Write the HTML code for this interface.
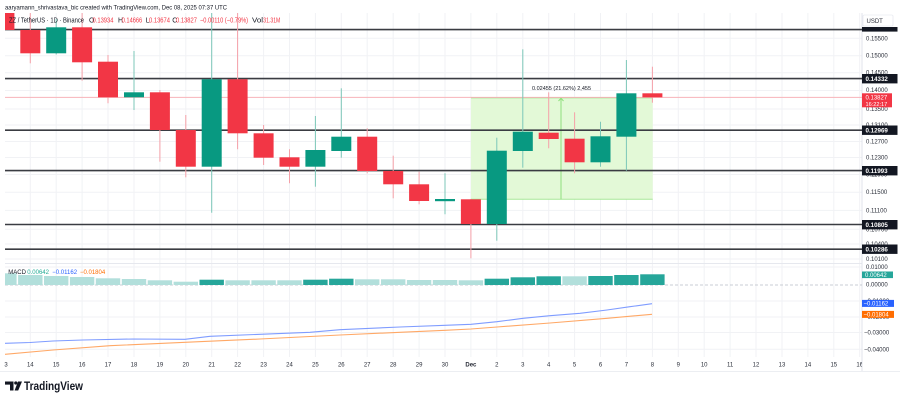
<!DOCTYPE html>
<html><head><meta charset="utf-8"><style>
html,body{margin:0;padding:0;background:#fff;}
svg{display:block;font-family:"Liberation Sans",sans-serif;}
</style></head><body>
<svg width="900" height="400" viewBox="0 0 900 400" xmlns="http://www.w3.org/2000/svg">
<defs>
<clipPath id="main"><rect x="5" y="13" width="857" height="250"/></clipPath>
<clipPath id="macd"><rect x="5" y="263" width="857" height="94"/></clipPath>
<clipPath id="xax"><rect x="4" y="357" width="858" height="14"/></clipPath>
</defs>
<rect width="900" height="400" fill="#fff"/>

<!-- grid -->
<g stroke="#f1f2f5" stroke-width="1">
<line x1="30.3" y1="13" x2="30.3" y2="357"/><line x1="56.2" y1="13" x2="56.2" y2="357"/><line x1="82.1" y1="13" x2="82.1" y2="357"/><line x1="108" y1="13" x2="108" y2="357"/><line x1="134" y1="13" x2="134" y2="357"/><line x1="159.9" y1="13" x2="159.9" y2="357"/><line x1="185.8" y1="13" x2="185.8" y2="357"/><line x1="211.7" y1="13" x2="211.7" y2="357"/><line x1="237.6" y1="13" x2="237.6" y2="357"/><line x1="263.6" y1="13" x2="263.6" y2="357"/><line x1="289.5" y1="13" x2="289.5" y2="357"/><line x1="315.4" y1="13" x2="315.4" y2="357"/><line x1="341.3" y1="13" x2="341.3" y2="357"/><line x1="367.2" y1="13" x2="367.2" y2="357"/><line x1="393.2" y1="13" x2="393.2" y2="357"/><line x1="419.1" y1="13" x2="419.1" y2="357"/><line x1="445" y1="13" x2="445" y2="357"/><line x1="470.9" y1="13" x2="470.9" y2="357"/><line x1="496.8" y1="13" x2="496.8" y2="357"/><line x1="522.8" y1="13" x2="522.8" y2="357"/><line x1="548.7" y1="13" x2="548.7" y2="357"/><line x1="574.6" y1="13" x2="574.6" y2="357"/><line x1="600.5" y1="13" x2="600.5" y2="357"/><line x1="626.4" y1="13" x2="626.4" y2="357"/><line x1="652.4" y1="13" x2="652.4" y2="357"/><line x1="678.3" y1="13" x2="678.3" y2="357"/><line x1="704.2" y1="13" x2="704.2" y2="357"/><line x1="730.1" y1="13" x2="730.1" y2="357"/><line x1="756" y1="13" x2="756" y2="357"/><line x1="782" y1="13" x2="782" y2="357"/><line x1="807.9" y1="13" x2="807.9" y2="357"/><line x1="833.8" y1="13" x2="833.8" y2="357"/><line x1="859.7" y1="13" x2="859.7" y2="357"/>
<line x1="5" y1="38.3" x2="862" y2="38.3"/><line x1="5" y1="55.7" x2="862" y2="55.7"/><line x1="5" y1="72.7" x2="862" y2="72.7"/><line x1="5" y1="90.5" x2="862" y2="90.5"/><line x1="5" y1="109" x2="862" y2="109"/><line x1="5" y1="125" x2="862" y2="125"/><line x1="5" y1="141.5" x2="862" y2="141.5"/><line x1="5" y1="157.5" x2="862" y2="157.5"/><line x1="5" y1="174.5" x2="862" y2="174.5"/><line x1="5" y1="192.2" x2="862" y2="192.2"/><line x1="5" y1="210.4" x2="862" y2="210.4"/><line x1="5" y1="229.3" x2="862" y2="229.3"/><line x1="5" y1="244" x2="862" y2="244"/><line x1="5" y1="259" x2="862" y2="259"/>
<line x1="5" y1="267" x2="862" y2="267"/><line x1="5" y1="301" x2="862" y2="301"/><line x1="5" y1="317" x2="862" y2="317"/><line x1="5" y1="332.5" x2="862" y2="332.5"/><line x1="5" y1="349.3" x2="862" y2="349.3"/>
</g>

<!-- pane borders -->
<line x1="5" y1="263.5" x2="862" y2="263.5" stroke="#e6e8ee" stroke-width="1"/>
<line x1="0" y1="371.5" x2="900" y2="371.5" stroke="#eceef2" stroke-width="1"/>
<line x1="862" y1="13" x2="862" y2="371" stroke="#e0e3eb" stroke-width="1"/>

<g clip-path="url(#main)">
<!-- measurement box -->
<rect x="471" y="97.7" width="181.7" height="101.6" fill="#e3f9d7"/>
<line x1="471" y1="97.7" x2="652.7" y2="97.7" stroke="#8fe07c" stroke-width="1"/>
<line x1="471" y1="199.3" x2="652.7" y2="199.3" stroke="#a8e898" stroke-width="1"/>
<line x1="561" y1="99" x2="561" y2="199.3" stroke="#8fe07c" stroke-width="1"/>
<polyline points="558.5,101 561,98.2 563.5,101" fill="none" stroke="#8fe07c" stroke-width="1"/>

<!-- current price line -->
<line x1="5" y1="97.4" x2="862" y2="97.4" stroke="#f7b3b9" stroke-width="1"/>

<!-- level lines -->
<g stroke="#3a3c42" stroke-width="1.6">
<line x1="0" y1="29.6" x2="862" y2="29.6"/>
<line x1="5" y1="78.6" x2="862" y2="78.6"/>
<line x1="5" y1="130.2" x2="862" y2="130.2"/>
<line x1="5" y1="170.6" x2="862" y2="170.6"/>
<line x1="5" y1="224.5" x2="862" y2="224.5"/>
<line x1="5" y1="249.2" x2="862" y2="249.2"/>
</g>

<!-- wicks -->
<g stroke-width="1">
<line x1="30.3" y1="13" x2="30.3" y2="63.3" stroke="#f5a0a8"/>
<line x1="56.2" y1="19" x2="56.2" y2="54.5" stroke="#7cc7b8"/>
<line x1="82.1" y1="13" x2="82.1" y2="80.7" stroke="#f5a0a8"/>
<line x1="108" y1="55" x2="108" y2="103.3" stroke="#f5a0a8"/>
<line x1="134" y1="51" x2="134" y2="110" stroke="#7cc7b8"/>
<line x1="159.9" y1="90" x2="159.9" y2="161.7" stroke="#f5a0a8"/>
<line x1="185.8" y1="115" x2="185.8" y2="177.3" stroke="#f5a0a8"/>
<line x1="211.7" y1="13" x2="211.7" y2="212.7" stroke="#7cc7b8"/>
<line x1="237.6" y1="13" x2="237.6" y2="149.3" stroke="#f5a0a8"/>
<line x1="263.6" y1="125" x2="263.6" y2="165" stroke="#f5a0a8"/>
<line x1="289.5" y1="149.3" x2="289.5" y2="183.3" stroke="#f5a0a8"/>
<line x1="315.4" y1="116" x2="315.4" y2="186.7" stroke="#7cc7b8"/>
<line x1="341.3" y1="88.3" x2="341.3" y2="157.7" stroke="#7cc7b8"/>
<line x1="367.2" y1="128.3" x2="367.2" y2="173.3" stroke="#f5a0a8"/>
<line x1="393.2" y1="155.7" x2="393.2" y2="198.3" stroke="#f5a0a8"/>
<line x1="419.1" y1="171.7" x2="419.1" y2="204.3" stroke="#f5a0a8"/>
<line x1="445" y1="173.3" x2="445" y2="214.3" stroke="#7cc7b8"/>
<line x1="470.9" y1="199" x2="470.9" y2="258.3" stroke="#f5a0a8"/>
<line x1="496.8" y1="137.7" x2="496.8" y2="240.7" stroke="#7cc7b8"/>
<line x1="522.8" y1="49.3" x2="522.8" y2="167.7" stroke="#7cc7b8"/>
<line x1="548.7" y1="92.3" x2="548.7" y2="148.3" stroke="#f5a0a8"/>
<line x1="574.6" y1="112.3" x2="574.6" y2="173.3" stroke="#f5a0a8"/>
<line x1="600.5" y1="121.7" x2="600.5" y2="166.7" stroke="#7cc7b8"/>
<line x1="626.4" y1="60" x2="626.4" y2="170.7" stroke="#7cc7b8"/>
<line x1="652.4" y1="66.7" x2="652.4" y2="102.7" stroke="#f5a0a8"/>
</g>

<!-- bodies -->
<g fill="#f23645">
<rect x="-5.6" y="13" width="20" height="17"/>
<rect x="20.3" y="30" width="20" height="23.3"/>
<rect x="72.1" y="27.3" width="20" height="35"/>
<rect x="98" y="61.7" width="20" height="35.6"/>
<rect x="149.9" y="92.3" width="20" height="37.7"/>
<rect x="175.8" y="130" width="20" height="36.7"/>
<rect x="227.6" y="79.3" width="20" height="54"/>
<rect x="253.6" y="133.3" width="20" height="24.4"/>
<rect x="279.5" y="157.3" width="20" height="9.4"/>
<rect x="357.2" y="136.7" width="20" height="34.3"/>
<rect x="383.2" y="171" width="20" height="13.3"/>
<rect x="409.1" y="184.3" width="20" height="16.7"/>
<rect x="460.9" y="199.3" width="20" height="24.7"/>
<rect x="538.7" y="132.7" width="20" height="6.3"/>
<rect x="564.6" y="138.7" width="20" height="23.6"/>
<rect x="642.4" y="93.3" width="20" height="4"/>
</g>
<g fill="#089981">
<rect x="46.2" y="27.3" width="20" height="26"/>
<rect x="124" y="92.3" width="20" height="5"/>
<rect x="201.7" y="79.3" width="20" height="87.4"/>
<rect x="305.4" y="150" width="20" height="16.7"/>
<rect x="331.3" y="136.7" width="20" height="14.3"/>
<rect x="435" y="199" width="20" height="2.2"/>
<rect x="486.8" y="150.7" width="20" height="73.3"/>
<rect x="512.8" y="131.7" width="20" height="19.3"/>
<rect x="590.5" y="136.3" width="20" height="26"/>
<rect x="616.4" y="93.3" width="20" height="43.4"/>
</g>
<text x="561.5" y="90" font-size="5.5" fill="#131722" text-anchor="middle">0.02455 (21.62%) 2,455</text>
</g>

<!-- MACD pane -->
<g clip-path="url(#macd)">
<line x1="5" y1="285" x2="862" y2="285" stroke="#b8bcc6" stroke-width="0.8" stroke-dasharray="3 2"/>
<g fill="#b2dfdb">
<rect x="-7.8" y="273.3" width="24.4" height="11.7"/>
<rect x="18.1" y="275" width="24.4" height="10"/>
<rect x="44" y="276" width="24.4" height="9"/>
<rect x="69.9" y="277" width="24.4" height="8"/>
<rect x="95.8" y="278.3" width="24.4" height="6.7"/>
<rect x="121.8" y="279" width="24.4" height="6"/>
<rect x="147.7" y="280.3" width="24.4" height="4.7"/>
<rect x="173.6" y="281.7" width="24.4" height="3.3"/>
<rect x="225.4" y="280.3" width="24.4" height="4.7"/>
<rect x="251.4" y="280.3" width="24.4" height="4.7"/>
<rect x="277.3" y="280.3" width="24.4" height="4.7"/>
<rect x="355" y="279.3" width="24.4" height="5.7"/>
<rect x="381" y="279.3" width="24.4" height="5.7"/>
<rect x="406.9" y="280" width="24.4" height="5"/>
<rect x="432.8" y="280" width="24.4" height="5"/>
<rect x="458.7" y="280.3" width="24.4" height="4.7"/>
<rect x="562.4" y="276.3" width="24.4" height="8.7"/>
</g>
<g fill="#26a69a">
<rect x="199.5" y="279.7" width="24.4" height="5.3"/>
<rect x="303.2" y="279.7" width="24.4" height="5.3"/>
<rect x="329.1" y="278.7" width="24.4" height="6.3"/>
<rect x="484.6" y="278.7" width="24.4" height="6.3"/>
<rect x="510.6" y="277.3" width="24.4" height="7.7"/>
<rect x="536.5" y="276.3" width="24.4" height="8.7"/>
<rect x="588.3" y="276" width="24.4" height="9"/>
<rect x="614.2" y="275" width="24.4" height="10"/>
<rect x="640.2" y="274.3" width="24.4" height="10.7"/>
</g>
<polyline fill="none" stroke="#7f9cff" stroke-width="1.1" points="5,343.3 30,342.5 53,341 83,340 133,339 185,339.3 210,336.3 260,334.3 310,332.3 340,329.7 400,327 445,325.3 471,324.3 497,321.7 523,318.3 550,315.7 580,313.3 607,310 630,306.7 652,303.7"/>
<polyline fill="none" stroke="#ffa866" stroke-width="1.1" points="5,354.3 53,350 110,345.7 185,342.3 260,339 340,335 400,332.3 445,330.3 471,329 497,327 550,323 607,318.3 652,314.3"/>
</g>
<text y="273.8" font-size="6" fill="#131722"><tspan x="8.3">MACD</tspan><tspan x="27.3" fill="#22ab94">0.00642</tspan><tspan x="52.3" fill="#2962ff">−0.01162</tspan><tspan x="80" fill="#ff6d00">−0.01804</tspan></text>

<!-- header -->
<text x="5" y="9.6" font-size="6.8" fill="#131722" textLength="222" lengthAdjust="spacingAndGlyphs">aaryamann_shrivastava_bic created with TradingView.com, Dec 08, 2025 07:37 UTC</text>
<g font-size="7" fill="#131722">
<text x="9" y="22.4" textLength="75" lengthAdjust="spacingAndGlyphs">ZZ / TetherUS · 1D · Binance</text>
<text x="89" y="22.4">O</text><text x="92.5" y="22.4" fill="#f23645" textLength="21" lengthAdjust="spacingAndGlyphs">0.13934</text>
<text x="118" y="22.4">H</text><text x="121.7" y="22.4" fill="#f23645" textLength="20.5" lengthAdjust="spacingAndGlyphs">0.14666</text>
<text x="145.7" y="22.4">L</text><text x="149" y="22.4" fill="#f23645" textLength="21" lengthAdjust="spacingAndGlyphs">0.13674</text>
<text x="172.3" y="22.4">C</text><text x="176" y="22.4" fill="#f23645" textLength="21" lengthAdjust="spacingAndGlyphs">0.13827</text>
<text x="200" y="22.4" fill="#f23645" textLength="48" lengthAdjust="spacingAndGlyphs">−0.00110 (−0.79%)</text>
<text x="252" y="22.4" textLength="11" lengthAdjust="spacingAndGlyphs">Vol</text><text x="263.3" y="22.4" fill="#f23645" textLength="17" lengthAdjust="spacingAndGlyphs">31.31M</text>
</g>

<!-- right axis labels -->
<g font-size="6" fill="#2a2e39">
<text x="866" y="40.3">0.15500</text>
<text x="866" y="57.7">0.15000</text>
<text x="866" y="74.5">0.14500</text>
<text x="866" y="92.2">0.14000</text>
<text x="866" y="110.8">0.13500</text>
<text x="866" y="126.8">0.13100</text>
<text x="866" y="143.5">0.12700</text>
<text x="866" y="159.5">0.12300</text>
<text x="866" y="176.5">0.11900</text>
<text x="866" y="194.2">0.11500</text>
<text x="866" y="212.4">0.11100</text>
<text x="866" y="231.3">0.10700</text>
<text x="866" y="246">0.10400</text>
<text x="866" y="261">0.10100</text>
<text x="866" y="268.8">0.01000</text>
<text x="866" y="286.6">0.00000</text>
<text x="864" y="303">−0.01000</text>
<text x="864" y="319">−0.02000</text>
<text x="864" y="334.5">−0.03000</text>
<text x="864" y="351.3">−0.04000</text>
</g>
<!-- USDT -->
<rect x="863" y="15" width="30" height="11" fill="#fff" stroke="#e0e3eb" stroke-width="0.6" rx="1"/>
<text x="866.5" y="22.8" font-size="6" fill="#2a2e39">USDT</text>
<!-- black labels -->
<g fill="#131722">
<rect x="862" y="27" width="35.5" height="4.6"/>
<rect x="862" y="74" width="35.5" height="9.4"/>
<rect x="862" y="125.5" width="35.5" height="9.4"/>
<rect x="862" y="166" width="35.5" height="9.4"/>
<rect x="862" y="220" width="35.5" height="9.4"/>
<rect x="862" y="244.5" width="35.5" height="9.4"/>
</g>
<g font-size="6.2" fill="#fff" font-weight="bold">
<text x="865.5" y="80.9">0.14332</text>
<text x="865.5" y="132.4">0.12969</text>
<text x="865.5" y="172.9">0.11993</text>
<text x="865.5" y="226.9">0.10805</text>
<text x="865.5" y="251.4">0.10286</text>
</g>
<rect x="862" y="93.3" width="30" height="14" fill="#f23645"/>
<text x="865.5" y="99.4" font-size="6" fill="#fff">0.13827</text>
<text x="865.5" y="105.9" font-size="5.6" fill="#fff">16:22:17</text>
<rect x="862" y="271.5" width="31" height="6.6" fill="#26a69a"/>
<text x="865" y="276.9" font-size="6" fill="#fff">0.00642</text>
<rect x="862" y="299.9" width="32" height="7" fill="#2962ff"/>
<text x="863.5" y="305.5" font-size="6" fill="#fff">−0.01162</text>
<rect x="862" y="310.9" width="32" height="7" fill="#ff6d00"/>
<text x="863.5" y="316.5" font-size="6" fill="#fff">−0.01804</text>

<!-- x axis labels -->
<g clip-path="url(#xax)" font-size="6" fill="#2a2e39" text-anchor="middle">
<text x="4.4" y="366.3">13</text><text x="30.3" y="366.3">14</text><text x="56.2" y="366.3">15</text><text x="82.1" y="366.3">16</text><text x="108" y="366.3">17</text><text x="134" y="366.3">18</text><text x="159.9" y="366.3">19</text><text x="185.8" y="366.3">20</text><text x="211.7" y="366.3">21</text><text x="237.6" y="366.3">22</text><text x="263.6" y="366.3">23</text><text x="289.5" y="366.3">24</text><text x="315.4" y="366.3">25</text><text x="341.3" y="366.3">26</text><text x="367.2" y="366.3">27</text><text x="393.2" y="366.3">28</text><text x="419.1" y="366.3">29</text><text x="445" y="366.3">30</text><text x="470.9" y="366.3" font-weight="bold">Dec</text><text x="496.8" y="366.3">2</text><text x="522.8" y="366.3">3</text><text x="548.7" y="366.3">4</text><text x="574.6" y="366.3">5</text><text x="600.5" y="366.3">6</text><text x="626.4" y="366.3">7</text><text x="652.4" y="366.3">8</text><text x="678.3" y="366.3">9</text><text x="704.2" y="366.3">10</text><text x="730.1" y="366.3">11</text><text x="756" y="366.3">12</text><text x="782" y="366.3">13</text><text x="807.9" y="366.3">14</text><text x="833.8" y="366.3">15</text><text x="859.7" y="366.3">16</text>
</g>

<!-- TradingView logo -->
<g fill="#131722">
<polygon points="5,381.5 13.5,381.5 13.5,390.5 10,390.5 10,384.6 5,384.6"/>
<circle cx="15.8" cy="383" r="1.6"/>
<polygon points="18,381.5 22,381.5 18.2,390.5 14.6,390.5"/>
</g>
<text x="24" y="390.2" font-size="11.5" font-weight="bold" fill="#131722" textLength="59" lengthAdjust="spacingAndGlyphs">TradingView</text>
</svg>
</body></html>
